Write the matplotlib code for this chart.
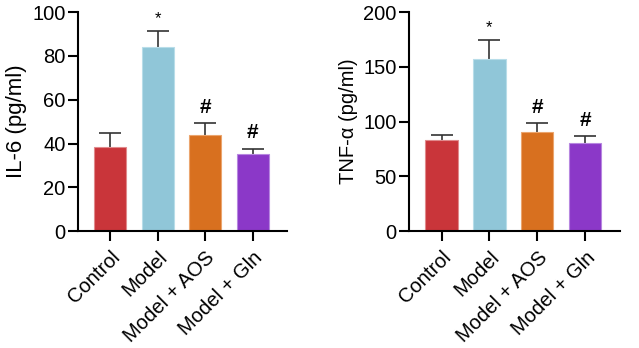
import numpy as np
import matplotlib
matplotlib.use("Agg")
import matplotlib.pyplot as plt

plt.rcParams['font.family'] = ['Liberation Sans', 'DejaVu Sans']

groups = ["Control", "Model", "Model + AOS", "Model + Gln"]
colors = ["#c9353a", "#90c6d8", "#d8701f", "#8b38c8"]
edges = ["#e08a8c", "#b8dde9", "#eba56e", "#b787e0"]

il6_mean = [38.5, 84.3, 43.8, 35.0]
il6_err = [6.4, 7.2, 5.4, 2.6]
tnf_mean = [83.1, 156.8, 90.1, 80.1]
tnf_err = [4.9, 18.2, 8.5, 6.4]

marks = ["", "*", "#", "#"]

panels = [
    (il6_mean, il6_err, "IL-6 (pg/ml)", 16, 100, [0, 20, 40, 60, 80, 100], [0.122, 0.327]),
    (tnf_mean, tnf_err, "TNF-\u03b1 (pg/ml)", 14.5, 200, [0, 50, 100, 150, 200], [0.640, 0.330]),
]

fig = plt.figure(figsize=(6.39, 3.48), dpi=100)

for means, errs, label, lsize, top, ticks, (left, width) in panels:
    ax = fig.add_axes([left, 0.336, width, 0.629])
    x = np.arange(len(groups))
    ax.bar(x, means, width=0.67, color=colors, edgecolor=edges, linewidth=0.8, zorder=2)
    eb = ax.errorbar(x, means, yerr=[np.zeros(len(errs)), errs], fmt="none",
                     ecolor="#333333", elinewidth=1.2, capsize=8, capthick=1.2, zorder=1)
    # hide the lower caps (sitting on the bar tops)
    eb[1][0].set_visible(False)
    for xi, m, e, s in zip(x, means, errs, marks):
        if s == "*":
            ax.text(xi, m + e + top * 0.02, s, ha="center", va="bottom", fontsize=12)
        elif s:
            ax.text(xi, m + e + top * 0.03, s, ha="center", va="bottom",
                    fontsize=15, fontweight="bold")
    ax.set_xlim(-0.68, 3.72)
    ax.set_ylim(0, top)
    ax.set_yticks(ticks)
    ax.set_xticks(x)
    ax.set_xticklabels(groups, rotation=45, ha="right", rotation_mode="anchor", fontsize=14.5)
    ax.set_ylabel(label, fontsize=lsize, labelpad=4)
    ax.tick_params(axis="y", labelsize=14.5, pad=2)
    ax.tick_params(axis="x", pad=5)
    ax.tick_params(width=1.5, length=7, color="black")
    for side in ["top", "right"]:
        ax.spines[side].set_visible(False)
    for side in ["left", "bottom"]:
        ax.spines[side].set_linewidth(1.5)

fig.savefig("out.png", dpi=100)
